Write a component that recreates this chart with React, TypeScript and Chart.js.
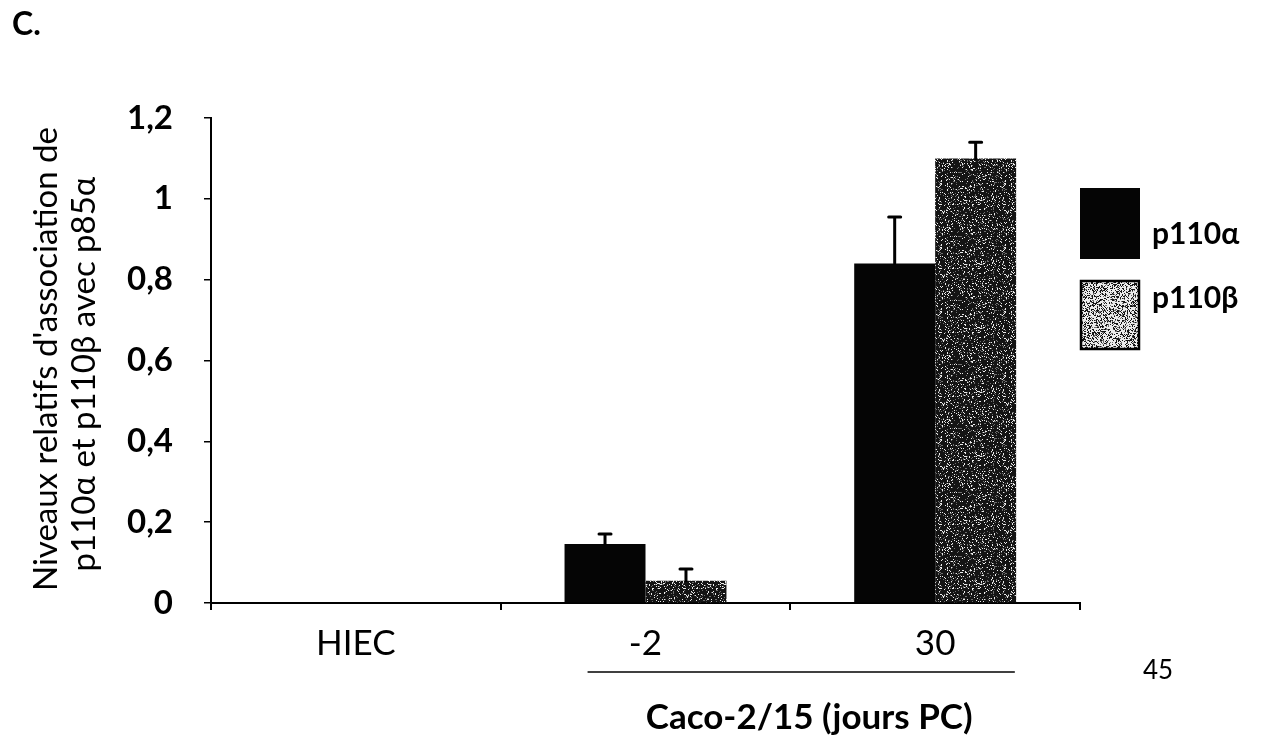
import { useEffect, useRef } from "react";
import { Chart, registerables } from "chart.js";

Chart.register(...registerables);

// Categories and measured association levels (mean + upper error)
const categories = ["HIEC", "-2", "30"];
const p110aValues = [0, 0.146, 0.84];
const p110bValues = [0, 0.055, 1.1];
const p110aErrors = [0, 0.025, 0.115];
const p110bErrors = [0, 0.029, 0.04];
const yTicks = [0, 0.2, 0.4, 0.6, 0.8, 1, 1.2];
const seriesLabels = ["p110α", "p110β"];
const yTitleLines = ["Niveaux relatifs d'association de", "p110α et p110β avec p85α"];
const groupLabel = "Caco-2/15 (jours PC)";
const panelLabel = "C.";
const pageNumber = "45";

const FONT = "Lato, 'Open Sans', sans-serif";

// Grainy stipple fill built from a fixed hash so it is the same on every draw
function stipple(ctx: CanvasRenderingContext2D, density: number, size = 64) {
  const c = document.createElement("canvas");
  c.width = size;
  c.height = size;
  const g = c.getContext("2d")!;
  const img = g.createImageData(size, size);
  for (let y = 0; y < size; y++) {
    for (let x = 0; x < size; x++) {
      let h = Math.imul(x + 1, 73856093) ^ Math.imul(y + 7, 19349663);
      h = Math.imul(h ^ (h >>> 13), 0x5bd1e995);
      h ^= h >>> 15;
      const v = ((h >>> 0) % 1000) / 1000;
      const shade = v < density ? 20 : v < density + 0.1 ? 110 : 235;
      const i = (y * size + x) * 4;
      img.data[i] = shade;
      img.data[i + 1] = shade;
      img.data[i + 2] = shade;
      img.data[i + 3] = 255;
    }
  }
  g.putImageData(img, 0, 0);
  return ctx.createPattern(c, "repeat")!;
}

const fmt = (v: number) => Number(v.toFixed(1)).toString().replace(".", ",");

export default function App() {
  const ref = useRef<HTMLCanvasElement | null>(null);

  useEffect(() => {
    const canvas = ref.current!;
    const ctx = canvas.getContext("2d")!;
    const barPattern = stipple(ctx, 0.8);
    const legendPattern = stipple(ctx, 0.3);
    const errors = [p110aErrors, p110bErrors];

    const extras = {
      id: "extras",
      afterDatasetsDraw(chart: any) {
        const c = chart.ctx;
        const ys = chart.scales.y;
        // upper error bars
        c.save();
        c.strokeStyle = "#000";
        c.lineWidth = 3;
        c.lineCap = "round";
        chart.data.datasets.forEach((ds: any, di: number) => {
          const meta = chart.getDatasetMeta(di);
          meta.data.forEach((el: any, i: number) => {
            const err = errors[di][i];
            const v = ds.data[i];
            if (!err || !v) return;
            const yTop = ys.getPixelForValue(v + err);
            c.beginPath();
            c.moveTo(el.x, el.y);
            c.lineTo(el.x, yTop);
            c.moveTo(el.x - 6, yTop);
            c.lineTo(el.x + 6, yTop);
            c.stroke();
          });
        });
        c.restore();
      },
      afterDraw(chart: any) {
        const c = chart.ctx;
        const xs = chart.scales.x;
        c.save();
        c.fillStyle = "#000";

        // panel letter
        c.font = `bold 32px ${FONT}`;
        c.textAlign = "left";
        c.textBaseline = "alphabetic";
        c.fillText(panelLabel, 12, 35);

        // y axis title, two rotated lines
        c.font = `33px ${FONT}`;
        c.textAlign = "center";
        c.save();
        c.translate(57, 359);
        c.rotate(-Math.PI / 2);
        c.fillText(yTitleLines[0], 0, 0);
        c.restore();
        c.save();
        c.translate(95, 374);
        c.rotate(-Math.PI / 2);
        c.fillText(yTitleLines[1], 0, 0);
        c.restore();

        // bracket line under the Caco-2 groups
        const cw = xs.getPixelForValue(2) - xs.getPixelForValue(1);
        const x0 = xs.getPixelForValue(1) - 0.2 * cw;
        const x1 = xs.getPixelForValue(2) + 0.275 * cw;
        c.strokeStyle = "#000";
        c.lineWidth = 1.5;
        c.beginPath();
        c.moveTo(x0, 672);
        c.lineTo(x1, 672);
        c.stroke();
        c.font = `bold 35px ${FONT}`;
        c.textBaseline = "middle";
        c.fillText(groupLabel, (x0 + x1) / 2 + 8, 718);

        // page number
        c.font = `26px ${FONT}`;
        c.textAlign = "left";
        c.fillText(pageNumber, 1143, 671);

        // legend
        c.fillStyle = "#050505";
        c.fillRect(1080, 188, 60, 71);
        c.fillStyle = legendPattern;
        c.fillRect(1081, 281, 58, 68);
        c.strokeStyle = "#000";
        c.lineWidth = 2.5;
        c.strokeRect(1081, 281, 58, 68);
        c.fillStyle = "#000";
        c.font = `bold 30px ${FONT}`;
        c.textAlign = "left";
        c.textBaseline = "middle";
        c.fillText(seriesLabels[0], 1152, 234);
        c.fillText(seriesLabels[1], 1152, 298);
        c.restore();
      },
    };

    const chart = new Chart(canvas, {
      type: "bar",
      data: {
        labels: categories,
        datasets: [
          {
            label: seriesLabels[0],
            data: p110aValues,
            backgroundColor: "#050505",
            borderWidth: 0,
          },
          {
            label: seriesLabels[1],
            data: p110bValues,
            backgroundColor: barPattern as any,
            borderWidth: 0,
          },
        ],
      },
      options: {
        responsive: false,
        animation: false,
        layout: { padding: { left: 0, top: 118, right: 193, bottom: 0 } },
        datasets: {
          bar: { categoryPercentage: 0.559, barPercentage: 1 },
        },
        plugins: {
          legend: { display: false },
          tooltip: { enabled: false },
        },
        scales: {
          x: {
            grid: {
              offset: true,
              drawOnChartArea: false,
              drawTicks: true,
              tickLength: 7,
              color: "#000",
              lineWidth: 2,
            },
            border: { color: "#000", width: 2 },
            ticks: {
              color: "#000",
              font: { family: FONT, size: 35 },
              padding: 13,
            },
            afterFit: (s: any) => {
              s.height = 132;
            },
          },
          y: {
            min: 0,
            max: 1.2,
            afterBuildTicks: (s: any) => {
              s.ticks = yTicks.map((v) => ({ value: v }));
            },
            grid: {
              drawOnChartArea: false,
              drawTicks: true,
              tickLength: 7,
              color: "#000",
              lineWidth: 1.5,
            },
            border: { color: "#000", width: 2 },
            ticks: {
              color: "#000",
              font: { family: FONT, size: 33, weight: "bold" },
              padding: 31,
              callback: (v: any) => fmt(Number(v)),
            },
            afterFit: (s: any) => {
              s.width = 211;
            },
          },
        },
      },
      plugins: [extras],
    });

    return () => chart.destroy();
  }, []);

  return (
    <div
      style={{
        position: "fixed",
        left: 0,
        top: 0,
        width: 1273,
        height: 735,
        background: "#fff",
      }}
    >
      <canvas ref={ref} width={1273} height={735} style={{ display: "block" }} />
    </div>
  );
}
